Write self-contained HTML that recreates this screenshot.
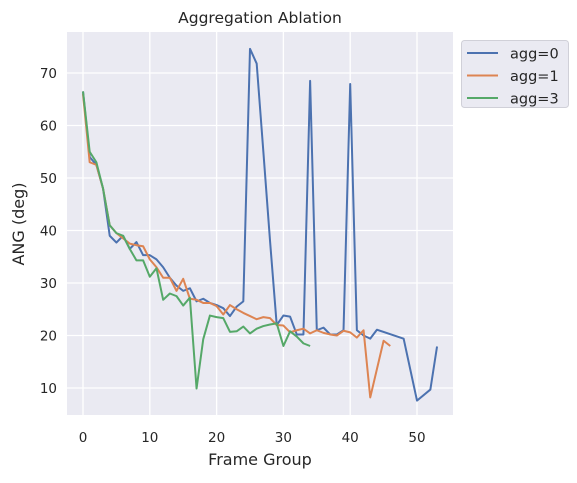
<!DOCTYPE html>
<html><head><meta charset="utf-8"><style>
body{margin:0;background:#fff;font-family:"DejaVu Sans","Liberation Sans",sans-serif}
svg text{font-family:"DejaVu Sans","Liberation Sans",sans-serif;fill:#262626}
</style></head><body>
<svg id="c" width="577" height="479"></svg>
<script>
const x0=[0,1,2,3,4,5,6,7,8,9,10,11,12,13,14,15,16,17,18,19,20,21,22,23,24,25,26,27,28,29,30,31,32,33,34,35,36,37,38,39,40,41,42,43,44,48,50,52,53];
const y0=[66.5,54,52.5,48,39,37.7,39,36.5,37.8,35.3,35.3,34.5,33,31,29.5,28.5,29,26.5,27,26.2,25.8,25.2,23.7,25.5,26.5,74.6,71.8,55,38,22,23.8,23.6,20.2,20.2,68.5,21,21.5,20.2,20.2,21,67.9,21,20,19.4,21.1,19.4,7.6,9.7,17.9];
const x1=[0,1,2,3,4,5,6,7,8,9,10,11,12,13,14,15,16,17,18,19,20,21,22,23,24,25,26,27,28,29,30,31,32,33,34,35,36,37,38,39,40,41,42,43,45,46];
const y1=[66,53,52.5,48,41,39.5,38.5,37.5,37.2,37,34.5,33,31,31,28.5,30.8,27,26.8,26.2,26.2,25.6,24,25.8,25,24.3,23.7,23.1,23.5,23.3,22,21.9,20.6,21,21.3,20.4,21,20.5,20.2,20,20.9,20.6,19.6,21,8.2,19,18];
const x3=[0,1,2,3,4,5,6,7,8,9,10,11,12,13,14,15,16,17,18,19,20,21,22,23,24,25,26,27,28,29,30,31,32,33,34];
const y3=[66.5,55,53,48,41,39.5,39,36.5,34.3,34.3,31.2,32.8,26.8,28,27.5,25.7,27.2,9.9,19.3,23.8,23.5,23.3,20.7,20.8,21.7,20.4,21.3,21.8,22.1,22.3,18,20.8,19.8,18.5,18];
const xTicks=[0,10,20,30,40,50];
const yTicks=[10,20,30,40,50,60,70];
const seriesNames=["agg=0","agg=1","agg=3"];
const colors=["#4c72b0","#dd8452","#55a868"];
const L=67,R=453,T=32,B=415;
const sx=v=>83+(v-0)*6.68;
const sy=v=>388-(v-10)*5.25;
const NS="http://www.w3.org/2000/svg";
const svg=document.getElementById('c');
function mk(t,a,p){const e=document.createElementNS(NS,t);for(const k in a)e.setAttribute(k,a[k]);(p||svg).appendChild(e);return e;}
const bg=mk('rect',{x:L,y:T,width:R-L,height:B-T,fill:'#eaeaf2'});


xTicks.forEach(v=>{const g=mk('line',{x1:sx(v),x2:sx(v),y1:T,y2:B,stroke:'#fff','stroke-width':1.3});


const t=mk('text',{x:sx(v),y:B+27,'text-anchor':'middle','font-size':13.5});t.textContent=v;

});
yTicks.forEach(v=>{const g=mk('line',{x1:L,x2:R,y1:sy(v),y2:sy(v),stroke:'#fff','stroke-width':1.3});


const t=mk('text',{x:L-10,y:sy(v)+5,'text-anchor':'end','font-size':13.5});t.textContent=v;

});
[[x0,y0],[x1,y1],[x3,y3]].forEach((s,i)=>{
const p=mk('polyline',{points:s[0].map((x,j)=>sx(x)+','+sy(s[1][j])).join(' '),fill:'none',stroke:colors[i],'stroke-width':2,'stroke-linejoin':'round'});

});
const tt=mk('text',{x:260,y:23,'text-anchor':'middle','font-size':15.5});tt.textContent='Aggregation Ablation';


const xl=mk('text',{x:260,y:465,'text-anchor':'middle','font-size':16});xl.textContent='Frame Group';


const yl=mk('text',{x:24,y:224,'text-anchor':'middle','font-size':16,transform:'rotate(-90 24 224)'});yl.textContent='ANG (deg)';


const lg=mk('rect',{x:461.5,y:40.5,width:107,height:67,rx:3,fill:'#eaeaf2',stroke:'#d0d0d8'});


seriesNames.forEach((n,i)=>{const y=53+i*22.5;
const l=mk('line',{x1:467,x2:498,y1:y,y2:y,stroke:colors[i],'stroke-width':2});


const t=mk('text',{x:510,y:y+5.5,'font-size':14.5});t.textContent=n;

});
</script>
</body></html>
